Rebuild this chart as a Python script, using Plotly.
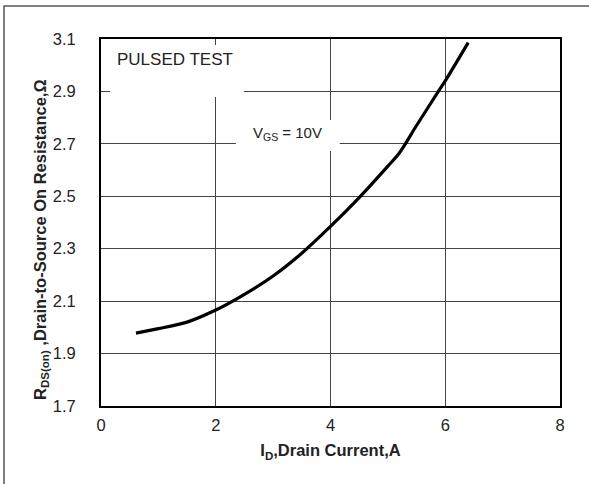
import plotly.graph_objects as go

# Data
drain_current = [0.61, 1.0, 1.5, 2.0, 2.5, 3.0, 3.5, 4.0, 4.5, 5.0, 5.2, 5.5, 5.88, 6.0, 6.4]
rds_on = [1.978, 1.995, 2.020, 2.066, 2.126, 2.196, 2.283, 2.385, 2.495, 2.615, 2.665, 2.77, 2.90, 2.94, 3.086]

x_ticks = [0, 2, 4, 6, 8]
y_ticks = [1.7, 1.9, 2.1, 2.3, 2.5, 2.7, 2.9, 3.1]
y_tick_text = ["1.7", "1.9", "2.1", "2.3", "2.5", "2.7", "2.9", "3.1"]

FONT = "Liberation Sans, Arial, sans-serif"

fig = go.Figure()
fig.add_trace(go.Scatter(
    x=drain_current, y=rds_on, mode="lines",
    line=dict(color="black", width=3.2, shape="spline", smoothing=0.8),
    showlegend=False, hoverinfo="skip",
))

fig.update_layout(
    width=589, height=484,
    margin=dict(l=101, r=29, t=39, b=78),
    paper_bgcolor="white", plot_bgcolor="white",
    font=dict(family=FONT, size=16, color="#222"),
    xaxis=dict(
        range=[0, 8], tickvals=x_ticks, ticktext=[str(v) for v in x_ticks],
        showgrid=True, gridcolor="#444", gridwidth=1, zeroline=False,
        showline=True, linecolor="black", linewidth=2, mirror=True,
        ticks="", ticklabelstandoff=3, tickfont=dict(size=16.5),
        title=dict(text="<b>I<sub>D</sub>,Drain Current,A</b>", font=dict(size=16.5, color="#222"), standoff=12),
    ),
    yaxis=dict(
        range=[1.7, 3.1], tickvals=y_ticks, ticktext=y_tick_text,
        showgrid=True, gridcolor="#444", gridwidth=1, zeroline=False,
        showline=True, linecolor="black", linewidth=2, mirror=True,
        ticks="", ticklabelstandoff=20, tickfont=dict(size=16.5),
    ),
    shapes=[
        # white boxes behind annotations
        dict(type="rect", xref="x", yref="y", x0=0.157, x1=2.49, y0=2.879, y1=3.077,
             fillcolor="white", line=dict(width=0), layer="between"),
        dict(type="rect", xref="x", yref="y", x0=2.35, x1=4.16, y0=2.673, y1=2.791,
             fillcolor="white", line=dict(width=0), layer="between"),
        # outer frame (top and left visible)
        dict(type="rect", xref="paper", yref="paper", x0=-0.2113, x1=1.15, y0=-0.35, y1=1.0899,
             fillcolor="rgba(0,0,0,0)", line=dict(color="#555", width=1.5), layer="above"),
    ],
    annotations=[
        dict(text="PULSED TEST", xref="paper", yref="paper",
             x=(115 - 101) / 459, y=(406 - 59) / 367, xanchor="left", yanchor="middle",
             showarrow=False, font=dict(size=17, color="#222")),
        dict(text="V<sub>GS</sub> = 10V", xref="paper", yref="paper",
             x=(287 - 101) / 459, y=(406 - 133) / 367, xanchor="center", yanchor="middle",
             showarrow=False, font=dict(size=15, color="#222")),
        dict(text="<b>R<sub>DS(on)</sub> ,Drain-to-Source On Resistance,Ω</b>",
             xref="paper", yref="paper", x=(41 - 101) / 459, y=(406 - 240) / 367,
             xanchor="center", yanchor="middle", textangle=-90,
             showarrow=False, font=dict(size=16.5, color="#222")),
    ],
)

fig.write_html("out.html")
